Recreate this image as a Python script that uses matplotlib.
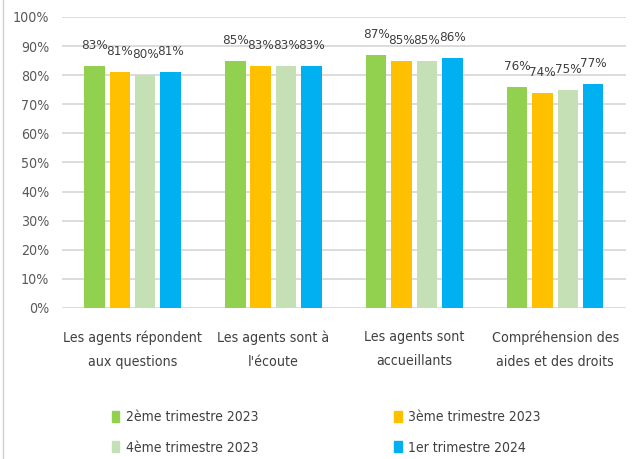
import numpy as np
import matplotlib.pyplot as plt
from matplotlib.lines import Line2D
from matplotlib.patches import Patch

categories = ["Les agents répondent\naux questions", "Les agents sont à\nl'écoute",
              "Les agents sont\naccueillants", "Compréhension des\naides et des droits"]
series_names = ["2ème trimestre 2023", "3ème trimestre 2023", "4ème trimestre 2023", "1er trimestre 2024"]
q2_2023 = [83, 85, 87, 76]
q3_2023 = [81, 83, 85, 74]
q4_2023 = [80, 83, 85, 75]
q1_2024 = [81, 83, 86, 77]
colors = ["#92D050", "#FFC000", "#C5E0B4", "#00B0F0"]

plt.rcParams['font.family'] = ['DejaVu Sans']
plt.rcParams['font.stretch'] = 'condensed'

fig = plt.figure(figsize=(6.32, 4.59), dpi=100)
ax = fig.add_axes([0.098, 0.329, 0.892, 0.634])

x = np.arange(len(categories))
width = 0.145
step = 0.18
all_series = [q2_2023, q3_2023, q4_2023, q1_2024]
for i, (vals, col) in enumerate(zip(all_series, colors)):
    pos = x + (i - 1.5) * step
    ax.bar(pos, vals, width, color=col, zorder=3)
    for px, v in zip(pos, vals):
        ax.annotate(f"{v}%", (px, v), xytext=(0, 14), textcoords='offset pixels',
                    ha='center', va='bottom', fontsize=9.6, color='#404040')

ax.set_ylim(0, 100)
ax.set_xlim(-0.5, len(categories) - 0.5)
ax.set_yticks(range(0, 101, 10))
ax.set_yticklabels([f"{t}%" for t in range(0, 101, 10)], fontsize=10.2, color='#595959')
ax.set_xticks(x)
ax.set_xticklabels(categories, fontsize=10.2, color='#404040', linespacing=1.9)
ax.tick_params(length=0, pad=9)
ax.tick_params(axis='x', pad=16)
ax.grid(axis='y', color='#D9D9D9', linewidth=1.3, zorder=0)
for s in ax.spines.values():
    s.set_visible(False)

# legend filled row by row like the original
order = [0, 2, 1, 3]
handles = [Patch(color=colors[k]) for k in order]
labels = [series_names[k] for k in order]
fig.legend(handles, labels, loc='upper left', bbox_to_anchor=(0.166, 0.122), ncol=2,
           frameon=False, fontsize=10, handlelength=0.55, handleheight=0.85,
           handletextpad=0.45, columnspacing=9.8, labelspacing=1.2,
           borderpad=0, labelcolor='#404040')

# thin border remnant on the left edge
fig.add_artist(Line2D([0.004, 0.004], [0, 1], transform=fig.transFigure, color='#D0D0D0', linewidth=1))

fig.savefig("out.png", dpi=100)
